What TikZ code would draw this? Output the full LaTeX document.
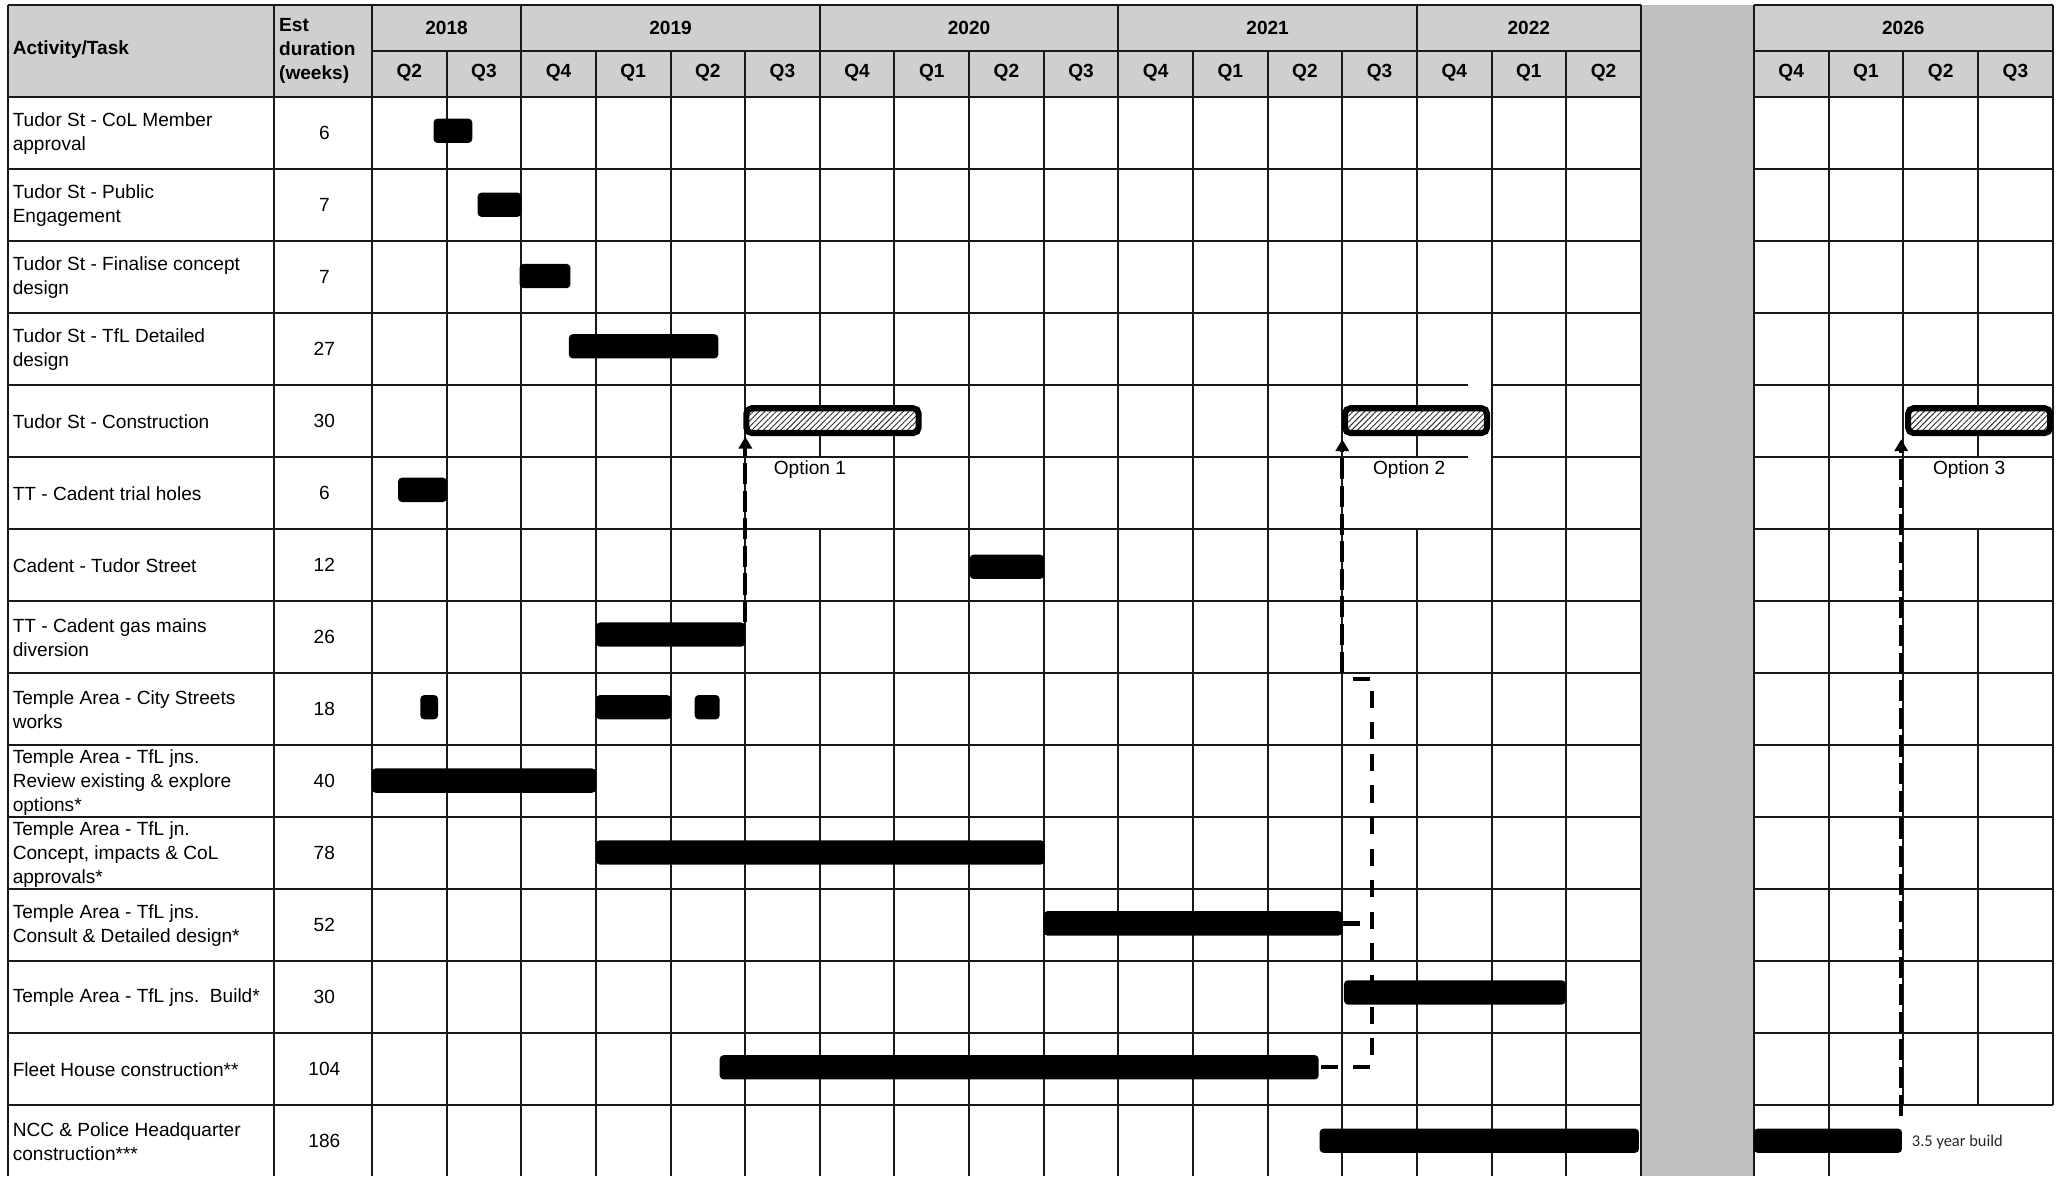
\documentclass[tikz,border=0pt]{standalone}
\usepackage{fontspec}
\setmainfont{Liberation Sans}
\newfontfamily\calfont{Carlito}
\usetikzlibrary{arrows.meta,patterns.meta}
\definecolor{hdrgray}{RGB}{208,206,206}
\definecolor{gapgray}{RGB}{191,191,191}
\frenchspacing
\newcommand\ganttbar[4]{\node[blackbar, minimum width={#3-#2}] (#1) at ({(#2+#3)/2}, #4) {};}
\begin{document}
\begin{tikzpicture}[x=1pt,y=-1pt,
  grid/.style={line width=1.5pt, black!90},
  blackbar/.style={fill=black, draw=none, rounded corners=3pt, inner sep=0pt, minimum height=18.5pt},
  hatchbar/.style={draw=black, line width=4.6pt, rounded corners=4pt, inner sep=0pt,
     minimum height=18.8pt, preaction={fill=white},
     pattern={Lines[angle=45,distance=3.1pt,line width=0.7pt]}, pattern color=black!80},
  txt/.style={font=\fontsize{14.5pt}{18.3pt}\selectfont, inner sep=0pt},
  hdrtxt/.style={txt, font=\fontsize{14.5pt}{18.3pt}\selectfont\bfseries},
  rowtxt/.style={txt, anchor=west, align=left},
  numtxt/.style={txt},
  optarrow/.style={line width=3pt, dash pattern=on 16pt off 5pt, shorten >=2.5pt,
     -{Triangle[width=10pt,length=9pt]}},
  bracketdash/.style={line width=3.3pt, dash pattern=on 13pt off 11pt}
]
\useasboundingbox (0,0) rectangle (1568,894);

% fills
\fill[hdrgray] (6.1,3.8) rectangle (1247.11,73.5);
\fill[hdrgray] (1333,3.8) rectangle (1560.2,73.5);
\fill[gapgray] (1247.11,3.8) rectangle (1333,894);

% horizontal grid lines, main table
\draw[grid] (6.1,3.8) -- (1247.11,3.8);
\draw[grid] (282.7,38.5) -- (1247.11,38.5);
\draw[grid] (6.1,73.5) -- (1247.11,73.5);
\foreach \y in {128.22,182.94,237.66,401.82,456.54,511.26,565.98,620.7,675.42,730.14,784.86,839.58}
  \draw[grid] (6.1,\y) -- (1247.11,\y);
\foreach \y in {292.38,347.1} {
  \draw[grid] (6.1,\y) -- (1115.5,\y);
  \draw[grid] (1134.5,\y) -- (1247.11,\y);
}
% horizontal grid lines, 2026 table
\foreach \y in {3.8,73.5,128.22,182.94,237.66,292.38,347.1,401.82,456.54,511.26,565.98,620.7,675.42,730.14,784.86,839.58}
  \draw[grid] (1333,\y) -- (1560.2,\y);
\draw[grid] (1333,38.5) -- (1560.2,38.5);

% vertical grid lines, main table
\foreach \x in {6.1,208.3,282.7,396.16,850.0,1247.11}
  \draw[grid] (\x,3.8) -- (\x,894);
\foreach \x in {623.08,1076.92} {
  \draw[grid] (\x,3.8) -- (\x,347.1);
  \draw[grid] (\x,401.82) -- (\x,894);
}
\foreach \x in {339.43,452.89,510.2,566.35,679.81,736.54,793.27,906.73,963.46,1020.19,1133.65,1190.38}
  \draw[grid] (\x,38.5) -- (\x,894);
% vertical grid lines, 2026 table
\draw[grid] (1333,3.8) -- (1333,894);
\draw[grid] (1560.2,3.8) -- (1560.2,839.58);
\draw[grid] (1389.8,38.5) -- (1389.8,894);
\draw[grid] (1446.6,38.5) -- (1446.6,839.58);
\draw[grid] (1503.4,38.5) -- (1503.4,347.1);
\draw[grid] (1503.4,401.82) -- (1503.4,839.58);

% header texts
\node[hdrtxt, anchor=west] (hact) at (9.5,38) {Activity/Task};
\node[hdrtxt, anchor=west, align=left] (hest) at (212,39) {Est\\duration\\(weeks)};
\node[hdrtxt] (y18) at (339.43,21) {2018};
\node[hdrtxt] (y19) at (509.62,21) {2019};
\node[hdrtxt] (y20) at (736.54,21) {2020};
\node[hdrtxt] (y21) at (963.46,21) {2021};
\node[hdrtxt] (y22) at (1162.0,21) {2022};
\node[hdrtxt] (y26) at (1446.6,21) {2026};
\foreach \lab [count=\i from 0] in {Q2,Q3,Q4,Q1,Q2,Q3,Q4,Q1,Q2,Q3,Q4,Q1,Q2,Q3,Q4,Q1,Q2}
  \node[hdrtxt] (qa\i) at ({282.7+56.73*(\i+0.5)},55.5) {\lab};
\foreach \lab [count=\i from 0] in {Q4,Q1,Q2,Q3}
  \node[hdrtxt] (qb\i) at ({1333+56.8*(\i+0.5)},55.5) {\lab};

% row texts
\node[rowtxt] (a1) at (9.5,101.5) {Tudor St - CoL Member\\approval};
\node[rowtxt] (a2) at (9.5,156.2) {Tudor St - Public\\Engagement};
\node[rowtxt] (a3) at (9.5,210.9) {Tudor St - Finalise concept\\design};
\node[rowtxt] (a4) at (9.5,265.6) {Tudor St - TfL Detailed\\design};
\node[rowtxt] (a5) at (9.5,320.3) {Tudor St - Construction};
\node[rowtxt] (a6) at (9.5,375) {TT - Cadent trial holes};
\node[rowtxt] (a7) at (9.5,429.8) {Cadent - Tudor Street};
\node[rowtxt] (a8) at (9.5,484.5) {TT - Cadent gas mains\\diversion};
\node[rowtxt] (a9) at (9.5,539.2) {Temple Area - City Streets\\works};
\node[rowtxt] (a10) at (9.5,595) {Temple Area - TfL jns.\\Review existing \& explore\\options*};
\node[rowtxt] (a11) at (9.5,649.7) {Temple Area - TfL jn.\\Concept, impacts \& CoL\\approvals*};
\node[rowtxt] (a12) at (9.5,703.4) {Temple Area - TfL jns.\\Consult \& Detailed design*};
\node[rowtxt] (a13) at (9.5,758.1) {Temple Area - TfL jns.\ \ Build*};
\node[rowtxt] (a14) at (9.5,812.8) {Fleet House construction**};
\node[rowtxt] (a15) at (9.5,867.5) {NCC \& Police Headquarter\\construction***};

% durations
\node[numtxt] (e1) at (246.5,100.86) {6};
\node[numtxt] (e2) at (246.5,155.58) {7};
\node[numtxt] (e3) at (246.5,210.3) {7};
\node[numtxt] (e4) at (246.5,265.02) {27};
\node[numtxt] (e5) at (246.5,319.74) {30};
\node[numtxt] (e6) at (246.5,374.46) {6};
\node[numtxt] (e7) at (246.5,429.18) {12};
\node[numtxt] (e8) at (246.5,483.9) {26};
\node[numtxt] (e9) at (246.5,538.62) {18};
\node[numtxt] (e10) at (246.5,593.34) {40};
\node[numtxt] (e11) at (246.5,648.06) {78};
\node[numtxt] (e12) at (246.5,702.78) {52};
\node[numtxt] (e13) at (246.5,757.5) {30};
\node[numtxt] (e14) at (246.5,812.22) {104};
\node[numtxt] (e15) at (246.5,866.94) {186};

% black bars
\ganttbar{b1}{329.5}{359}{99.4}
\ganttbar{b2}{363}{396.2}{155.6}
\ganttbar{b3}{395}{433.6}{209.8}
\ganttbar{b4}{432.4}{546}{263.2}
\ganttbar{b6}{302.5}{339.7}{372.3}
\ganttbar{b7}{737}{793.5}{430.8}
\ganttbar{b8}{453}{566.3}{482.3}
\ganttbar{b9a}{319.5}{333}{537.5}
\ganttbar{b9b}{453}{510}{537.5}
\ganttbar{b9c}{528}{547}{537.5}
\ganttbar{b10}{282.5}{453}{593.3}
\ganttbar{b11}{453}{794}{647.9}
\ganttbar{b12}{793}{1020.4}{701.8}
\ganttbar{b13}{1021.5}{1190}{754.3}
\ganttbar{b14}{547}{1002.3}{811.2}
\ganttbar{b15a}{1003}{1245.7}{867}
\ganttbar{b15b}{1333}{1445.6}{867}

% hatched construction options
\node[hatchbar, minimum width=130.9pt] (o1) at (632.75,319.7) {};
\node[hatchbar, minimum width=107.9pt] (o2) at (1076.25,319.7) {};
\node[hatchbar, minimum width=107.9pt] (o3) at (1504.25,319.7) {};
\node[txt] (l1) at (615.6,357) {Option 1};
\node[txt] (l2) at (1071,357) {Option 2};
\node[txt] (l3) at (1496.6,357) {Option 3};

% dependency arrows
\coordinate (s2) at (1020.2,511.3);
\coordinate (s3) at (1445,848);
\draw[optarrow] (b8.north east) -- (b8.north east |- o1.south);
\draw[optarrow] (s2) -- (s2 |- o2.south);
\draw[optarrow] (s3) -- (s3 |- o3.south);

% bracket
\coordinate (k0) at (1028,516);
\coordinate (k1) at (1043,516);
\draw[bracketdash] (k0) -- (k1) -- (k1 |- b14.east) -- (b14.east);
\draw[bracketdash] (b12.east) -- (b12.east -| k1);

% note
\node[anchor=west, inner sep=0pt, text=black!85, font=\calfont\fontsize{12.5pt}{14pt}\selectfont] (t35) at (1453,868) {3.5 year build};
\end{tikzpicture}
\end{document}
